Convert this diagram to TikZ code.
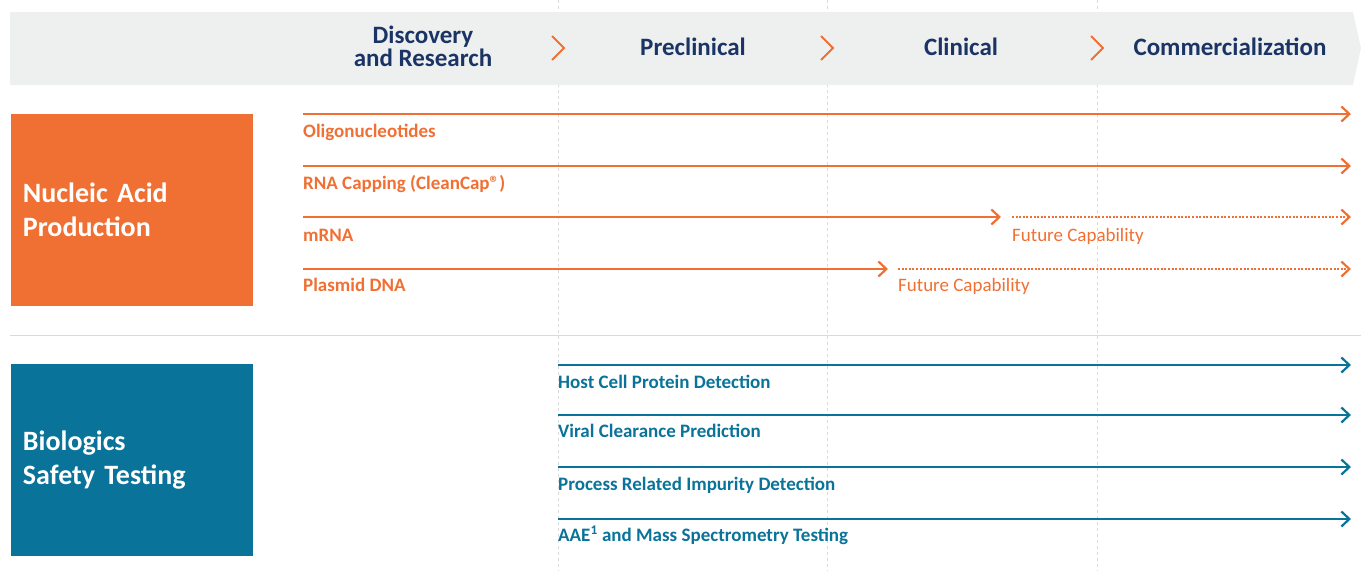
\documentclass[tikz,border=0pt]{standalone}
\usepackage{fontspec}
\setmainfont{Carlito}
\usepackage{tikz}
\usetikzlibrary{arrows.meta}
\definecolor{naorange}{HTML}{F07033}
\definecolor{bsblue}{HTML}{097399}
\definecolor{hdnavy}{HTML}{1B3466}
\definecolor{bandgray}{HTML}{EEF0EF}
\definecolor{gridgray}{HTML}{DADADA}

\begin{document}
\begin{tikzpicture}[x=1pt,y=-1pt,>={Straight Barb[length=8pt,width=15pt]},
  hdr/.style={text=hdnavy,font=\fontsize{25}{23}\selectfont\bfseries,align=center,anchor=base,inner sep=0pt},
  catbox/.style={minimum width=242pt,minimum height=192pt,text width=218pt,inner xsep=12pt,align=left,text=white,font=\fontsize{28}{34}\selectfont\bfseries},
  olabel/.style={anchor=base west,inner sep=0pt,text=naorange,font=\fontsize{19}{21}\selectfont\bfseries},
  blabel/.style={olabel,text=bsblue},
  flabel/.style={anchor=base west,inner sep=0pt,text=naorange,font=\fontsize{19}{21}\selectfont},
  oline/.style={naorange,line width=2.2pt,->},
  odots/.style={oline,dash pattern=on 2pt off 1.6pt},
  bline/.style={bsblue,line width=2.2pt,->}]
\useasboundingbox (0,0) rectangle (1361,571);
\foreach \x in {558,827,1097}
\draw[gridgray,dashed] (\x,0) -- (\x,571);
\fill[bandgray] (10,12) -- (1353,12) -- (1361,48) -- (1353,85) -- (10,85) -- cycle;
\foreach \x in {558,827,1097}
\draw[naorange,line width=2pt] (\x-6,36) -- (\x+6,48) -- (\x-6,60);
\draw[gridgray] (10,335) -- (1361,335);

% phases
\node[hdr] (disc) at (423,66) {Discovery\\and Research};
\node[hdr] (precl) at (693,55) {Preclinical};
\node[hdr] (clin) at (961,55) {Clinical};
\node[hdr] (comm) at (1230,55) {Commercialization};

\node[catbox,fill=naorange] (nap) at (132,210) {Nucleic Acid\\Production};
\node[catbox,fill=bsblue] (bst) at (132,460) {Biologics\\Safety Testing};

% nucleic acid production
\coordinate (olgs) at (303,114); \coordinate (olge) at (1351,114);
\coordinate (rnas) at (303,166); \coordinate (rnae) at (1351,166);
\coordinate (mrs) at (303,217); \coordinate (mrm) at (1001,217);
\coordinate (mrf) at (1012,217); \coordinate (mre) at (1351,217);
\coordinate (pls) at (303,269); \coordinate (plm) at (888,269);
\coordinate (plf) at (898,269); \coordinate (ple) at (1351,269);
\draw[oline] (olgs) -- (olge);
\draw[oline] (rnas) -- (rnae);
\draw[oline] (mrs) -- (mrm);
\draw[odots] (mrf) -- (mre);
\draw[oline] (pls) -- (plm);
\draw[odots] (plf) -- (ple);
\node[olabel] (olg) at (303,137) {Oligonucleotides};
\node[olabel] (rna) at (303,189) {RNA Capping (CleanCap®)};
\node[olabel] (mr) at (303,241) {mRNA};
\node[olabel] (pl) at (303,291) {Plasmid DNA};
\node[flabel] (mrfut) at (1012,241) {Future Capability};
\node[flabel] (plfut) at (898,291) {Future Capability};

% biologics safety testing
\coordinate (hcs) at (558,365); \coordinate (hce) at (1351,365);
\coordinate (vcs) at (558,415); \coordinate (vce) at (1351,415);
\coordinate (pis) at (558,467); \coordinate (pie) at (1351,467);
\coordinate (aas) at (558,519); \coordinate (aae) at (1351,519);
\draw[bline] (hcs) -- (hce);
\draw[bline] (vcs) -- (vce);
\draw[bline] (pis) -- (pie);
\draw[bline] (aas) -- (aae);
\node[blabel] (hc) at (558,388) {Host Cell Protein Detection};
\node[blabel] (vc) at (558,437) {Viral Clearance Prediction};
\node[blabel] (pi) at (558,490) {Process Related Impurity Detection};
\node[blabel] (aa) at (558,541) {AAE\textsuperscript{1} and Mass Spectrometry Testing};
\end{tikzpicture}
\end{document}
